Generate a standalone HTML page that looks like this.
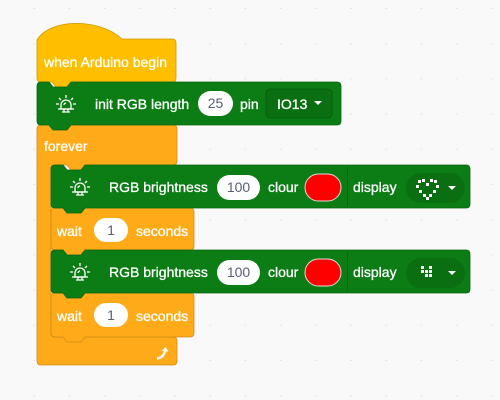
<!DOCTYPE html>
<html><head><meta charset="utf-8"><style>
html,body{margin:0;padding:0;background:#f9f9f9;}
svg{display:block}
text{font-family:"Liberation Sans",sans-serif;font-size:14px;}
.w{fill:#fff;stroke:#fff;stroke-width:0.3}
.g{fill:#575E75}
</style></head><body>
<svg width="500" height="400" viewBox="0 0 500 400">
<defs>
<pattern id="dots" x="0" y="0" width="35.2" height="35.2" patternUnits="userSpaceOnUse" patternTransform="translate(-2,8)">
<circle cx="1" cy="0" r="0.9" fill="#d6d6d6"/>
</pattern>
<g id="bulb" fill="none" stroke="#fff" stroke-width="1.3">
<path d="M-5,5 v-4 a5,5 0 0 1 10,0 v4 z"/>
<path d="M-8,5 h16"/>
<path d="M-2,8 v-3 M2,8 v-3 M-4,8 h8"/>
<path d="M0,-9 v3 M-7,-6 l2,2 M7,-6 l-2,2 M-10,0 h3 M10,0 h-3"/>
<path d="M-2,1 a2,2 0 0 1 2,-2"/>
</g>
</defs>
<rect width="500" height="400" fill="#f9f9f9"/>
<rect width="500" height="400" fill="url(#dots)"/>

<path d="M37,129 q0,-4 4,-4 H173 q4,0 4,4 V161 q0,4 -4,4 H89 l-4,5 h-14 l-4,-5 H55 q-4,0 -4,4 V333 q0,4 4,4 H173 q4,0 4,4 V361 q0,4 -4,4 H41 q-4,0 -4,-4 Z" fill="#FFAB19" stroke="#CF8B17" stroke-width="0.8"/>
<text x="44" y="151" class="w">forever</text>
<path d="M157,357 q5,0 7,-6 l-2.5,0 l4,-4 l3,4.5 h-2.5 q-2,8 -9,8 z" fill="#fff"/>

<path d="M37,40 C50,18 100,18 122,39 H172 q4,0 4,4 V78 q0,4 -4,4 H74 l-4,5 h-14 l-4,-5 H41 q-4,0 -4,-4 Z" fill="#FFBF00" stroke="#CC9900" stroke-width="0.8"/>
<text x="44" y="67" class="w">when Arduino begin</text>

<path d="M55,208 H63 l4,5 h14 l4,-5 H190 q4,0 4,4 V246 q0,4 -4,4 H85 l-4,5 h-14 l-4,-5 H55 q-4,0 -4,-4 V212 q0,-4 4,-4 Z" fill="#FFAB19" stroke="#CF8B17" stroke-width="0.8"/>
<text x="57" y="236" class="w">wait</text>
<rect x="94" y="218" width="34" height="24" rx="12" fill="#fff"/>
<text x="111" y="235" class="g" text-anchor="middle">1</text>
<text x="136" y="236" class="w">seconds</text>

<path d="M55,293 H63 l4,5 h14 l4,-5 H190 q4,0 4,4 V333 q0,4 -4,4 H85 l-4,5 h-14 l-4,-5 H55 q-4,0 -4,-4 V297 q0,-4 4,-4 Z" fill="#FFAB19" stroke="#CF8B17" stroke-width="0.8"/>
<text x="57" y="321" class="w">wait</text>
<rect x="94" y="303" width="34" height="24" rx="12" fill="#fff"/>
<text x="111" y="320" class="g" text-anchor="middle">1</text>
<text x="136" y="321" class="w">seconds</text>

<path d="M55,165 H63 l4,5 h14 l4,-5 H466 q4,0 4,4 V204 q0,4 -4,4 H85 l-4,5 h-14 l-4,-5 H55 q-4,0 -4,-4 V169 q0,-4 4,-4 Z" fill="#0B7D14" stroke="#086510" stroke-width="0.8"/>
<use href="#bulb" x="80" y="187"/>
<text x="109" y="192" class="w">RGB brightness</text>
<rect x="217" y="175" width="43" height="25" rx="12.5" fill="#fff"/>
<text x="238.5" y="192" class="g" text-anchor="middle">100</text>
<text x="268" y="192" class="w">clour</text>
<rect x="305" y="174" width="36" height="27" rx="13.5" fill="#FF0000" stroke="#ddd" stroke-width="1"/>
<line x1="347.5" y1="167" x2="347.5" y2="206" stroke="#086510" stroke-width="1"/>
<text x="353" y="192" class="w">display</text>
<rect x="406" y="173" width="59" height="30" rx="15" fill="#096F11"/>
<g fill="#fff">
<rect x="418" y="180" width="3" height="3"/><rect x="422" y="179" width="3" height="3"/><rect x="430" y="179" width="3" height="3"/><rect x="434" y="180" width="3" height="3"/>
<rect x="416" y="185" width="3" height="3"/><rect x="436" y="185" width="3" height="3"/><rect x="426" y="183" width="3" height="3"/>
<rect x="419" y="190" width="3" height="3"/><rect x="433" y="190" width="3" height="3"/>
<rect x="423" y="194" width="3" height="3"/><rect x="429" y="194" width="3" height="3"/><rect x="426" y="197" width="3" height="3"/>
</g>
<path d="M448,186 h8 l-4,4 z" fill="#fff"/>

<path d="M55,250 H63 l4,5 h14 l4,-5 H466 q4,0 4,4 V289 q0,4 -4,4 H85 l-4,5 h-14 l-4,-5 H55 q-4,0 -4,-4 V254 q0,-4 4,-4 Z" fill="#0B7D14" stroke="#086510" stroke-width="0.8"/>
<use href="#bulb" x="80" y="272"/>
<text x="109" y="277" class="w">RGB brightness</text>
<rect x="217" y="260" width="43" height="25" rx="12.5" fill="#fff"/>
<text x="238.5" y="277" class="g" text-anchor="middle">100</text>
<text x="268" y="277" class="w">clour</text>
<rect x="305" y="259" width="36" height="27" rx="13.5" fill="#FF0000" stroke="#ddd" stroke-width="1"/>
<line x1="347.5" y1="252" x2="347.5" y2="291" stroke="#086510" stroke-width="1"/>
<text x="353" y="277" class="w">display</text>
<rect x="406" y="258" width="59" height="30" rx="15" fill="#096F11"/>
<g fill="#fff">
<rect x="421" y="266" width="3" height="3"/><rect x="429" y="266" width="3" height="3"/>
<rect x="421" y="270" width="3" height="3"/><rect x="425" y="270" width="3" height="3"/><rect x="429" y="270" width="3" height="3"/>
<rect x="425" y="274" width="3" height="3"/><rect x="429" y="274" width="3" height="3"/>
</g>
<path d="M448,271 h8 l-4,4 z" fill="#fff"/>

<path d="M41,82 H49 l4,5 h14 l4,-5 H337 q4,0 4,4 V121 q0,4 -4,4 H71 l-4,5 h-14 l-4,-5 H41 q-4,0 -4,-4 V86 q0,-4 4,-4 Z" fill="#0B7D14" stroke="#086510" stroke-width="0.8"/>
<use href="#bulb" x="66" y="104"/>
<text x="95" y="109" class="w">init RGB length</text>
<rect x="198" y="91" width="35" height="25" rx="12.5" fill="#fff"/>
<text x="215.5" y="108" class="g" text-anchor="middle">25</text>
<text x="240" y="109" class="w">pin</text>
<rect x="266" y="89" width="66" height="29" rx="4" fill="#096F11" stroke="#075C0E" stroke-width="0.8"/>
<text x="277" y="109" class="w">IO13</text>
<path d="M314,101 h8 l-4,4 z" fill="#fff"/>
</svg>
</body></html>
